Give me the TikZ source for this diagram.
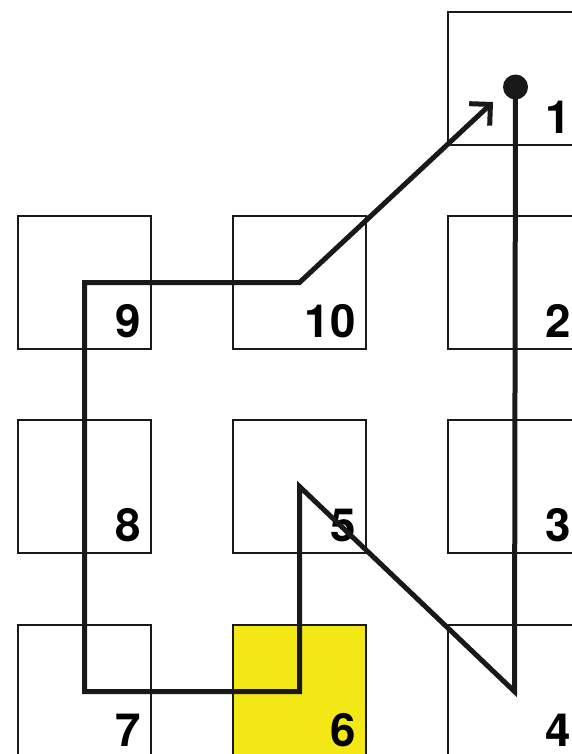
\documentclass[tikz,border=0pt]{standalone}
\usepackage{fontspec}
\newfontfamily\numfont{TeX Gyre Heros}
\usetikzlibrary{arrows.meta, positioning}
\definecolor{giallo}{RGB}{243,232,22}

\begin{document}
\begin{tikzpicture}[
  x=0.03cm, y=-0.03cm,
  casella/.style={draw=black!90, line width=0.06cm, minimum size=3.99cm, inner sep=0pt},
  numero/.style={font=\numfont\bfseries\fontsize{39}{39}\selectfont, inner sep=0pt},
  percorso/.style={draw=black!90, line width=0.15cm,
                   -{Straight Barb[length=4.5mm,width=9mm]}},
  punto/.style={circle, fill=black!90, minimum size=0.75cm, inner sep=0pt}
]

\path[use as bounding box, clip] (0,0) rectangle (572,754);

\node[casella] (c1)  at (514.5,78.5)  {};
\node[casella] (c9)  at (84.5,282.5)  {};
\node[casella] (c10) at (299.5,282.5) {};
\node[casella] (c2)  at (514.5,282.5) {};
\node[casella] (c8)  at (84.5,486.5)  {};
\node[casella] (c5)  at (299.5,486.5) {};
\node[casella] (c3)  at (514.5,486.5) {};
\node[casella] (c7)  at (84.5,691.5)  {};
\node[casella, fill=giallo] (c6) at (299.5,691.5) {};
\node[casella] (c4)  at (514.5,691.5) {};

\node[numero, above left=0.36cm and 0.33cm of c1.south east]  {1};
\node[numero, above left=0.36cm and 0.33cm of c2.south east]  {2};
\node[numero, above left=0.36cm and 0.33cm of c3.south east]  {3};
\node[numero, above left=0.36cm and 0.33cm of c4.south east]  {4};
\node[numero, above left=0.36cm and 0.33cm of c5.south east]  {5};
\node[numero, above left=0.36cm and 0.33cm of c6.south east]  {6};
\node[numero, above left=0.36cm and 0.33cm of c7.south east]  {7};
\node[numero, above left=0.36cm and 0.33cm of c8.south east]  {8};
\node[numero, above left=0.36cm and 0.33cm of c9.south east]  {9};
\node[numero, above left=0.36cm and 0.33cm of c10.south east] {10};

% percorso dal punto di partenza fino alla freccia
\coordinate (inizio) at (515.5,87);
\coordinate (punta)  at (493,102);
\draw[percorso] (inizio) -- (c4.center) -- (c5.center) -- (c6.center)
  -- (c7.center) -- (c9.center) -- (c10.center) -- (punta);
\node[punto] (partenza) at (inizio) {};

\end{tikzpicture}
\end{document}
